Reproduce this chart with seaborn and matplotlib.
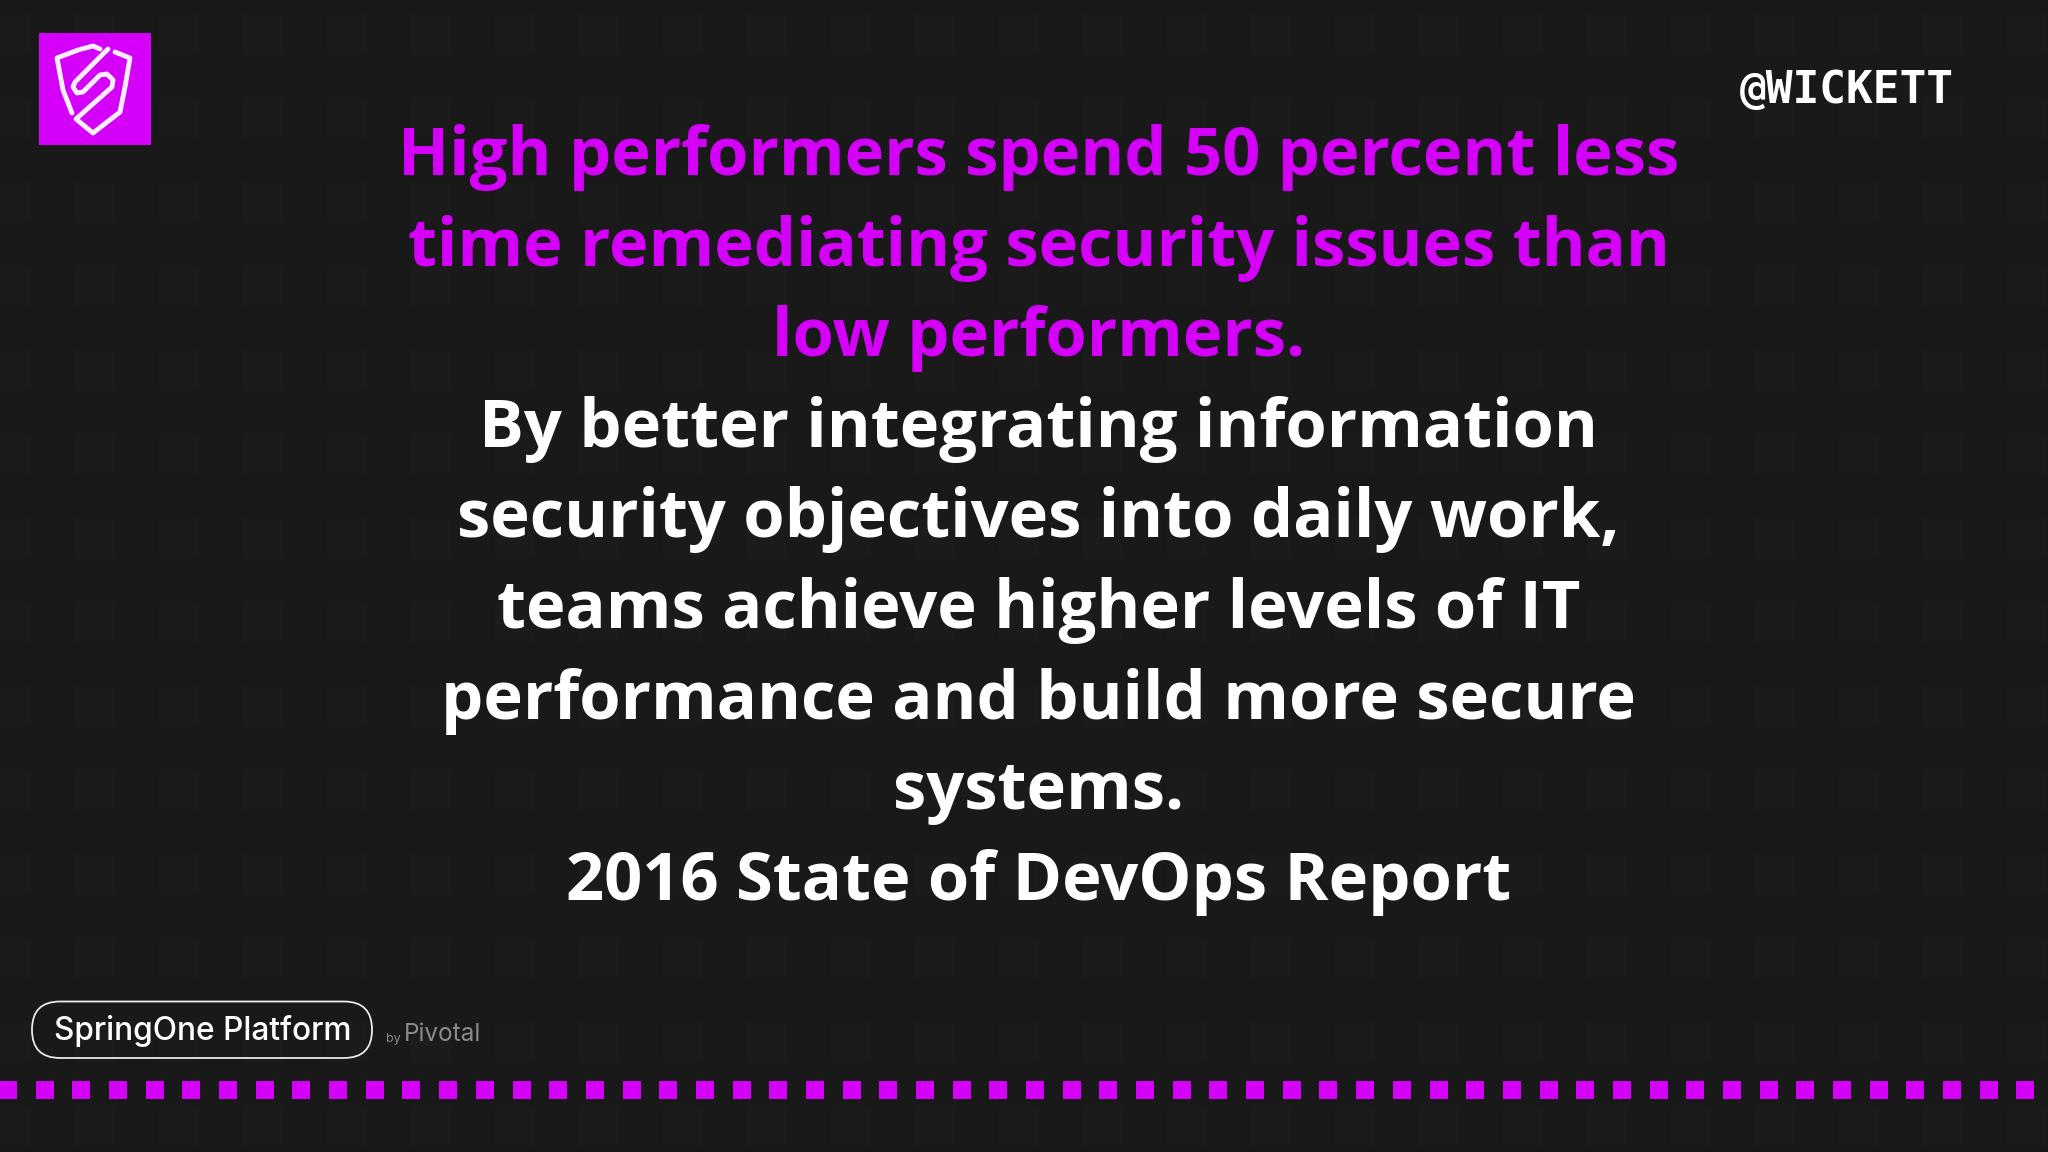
import numpy as np
import pandas as pd
import matplotlib
matplotlib.use("Agg")
import matplotlib.pyplot as plt
from matplotlib.patches import FancyBboxPatch, Rectangle
import seaborn as sns

# slide text
magenta_lines = ["High performers spend 50 percent less",
                 "time remediating security issues than",
                 "low performers."]
white_lines = ["By better integrating information",
               "security objectives into daily work,",
               "teams achieve higher levels of IT",
               "performance and build more secure",
               "systems.",
               "2016 State of DevOps Report"]
handle = "@WICKETT"
brand = "SpringOne Platform"

MAGENTA = "#d400fa"
BG = "#191919"

# logo strokes, in px of the slide
shield_left_x = [72, 63, 57, 78, 93, 100]
shield_left_y = [113, 90, 58, 50, 46, 49]
s_curve_x = [108, 75, 73, 77, 83, 100, 107, 113, 112, 76, 93, 120, 125, 130, 115]
s_curve_y = [49, 82, 87, 93, 92, 75, 74, 80, 87, 119, 133, 112, 87, 58, 52]

sns.set_theme(style="dark", rc={"figure.facecolor": BG, "axes.facecolor": BG})

fig = plt.figure(figsize=(20.48, 11.52), dpi=100)
ax = fig.add_axes([0, 0, 1, 1])
ax.set_xlim(0, 2048)
ax.set_ylim(1152, 0)
ax.axis("off")

# faint tile pattern behind everything
gx, gy = np.meshgrid(11 + 84 * np.arange(25), 34 + 84 * np.arange(14))
tiles = pd.DataFrame({"x": gx.ravel(), "y": gy.ravel()})
sns.scatterplot(data=tiles, x="x", y="y", marker="s", s=830, color="#1b1b1b",
                linewidth=0, ax=ax, legend=False, zorder=0)

# dotted strip along the bottom
dots = pd.DataFrame({"x": 8 + 36.68 * np.arange(56), "y": 1090})
sns.scatterplot(data=dots, x="x", y="y", marker="s", s=176, color=MAGENTA,
                linewidth=0, ax=ax, legend=False, zorder=2)

# logo
ax.add_patch(Rectangle((38.5, 33), 112, 112, color=MAGENTA, lw=0, zorder=2))
ax.plot(shield_left_x, shield_left_y, color="#fbeeff", lw=3.5, solid_joinstyle="round", zorder=3)
ax.plot(s_curve_x, s_curve_y, color="#fbeeff", lw=3.5, solid_joinstyle="round", zorder=3)

# main quote
font = "Open Sans"
y = 175
for line in magenta_lines:
    ax.text(1039, y, line, color=MAGENTA, family=font, weight="bold", fontsize=48.2,
            ha="center", va="baseline")
    y += 90.6
for line in white_lines:
    ax.text(1038.4, y, line, color="white", family=font, weight="bold", fontsize=48.2,
            ha="center", va="baseline")
    y += 90.6

ax.text(1847, 103, handle, color="white", family="DejaVu Sans Mono", weight="bold",
        fontsize=32, ha="center", va="baseline")

# footer
ax.add_patch(FancyBboxPatch((32, 1001.5), 340, 56.5, boxstyle="round,pad=0,rounding_size=28",
                            fc="none", ec="#e8e8e8", lw=1.3, zorder=2))
ax.text(54, 1040, brand, color="white", family="Inter", fontsize=22.8, weight="medium", va="baseline")
ax.text(386, 1042, "by", color="#8a8a8a", family="Inter", fontsize=9, va="baseline")
ax.text(404, 1041, "Pivotal", color="#8a8a8a", family="Inter", fontsize=17.5, va="baseline")

fig.savefig("out.png", dpi=100, facecolor=BG)
